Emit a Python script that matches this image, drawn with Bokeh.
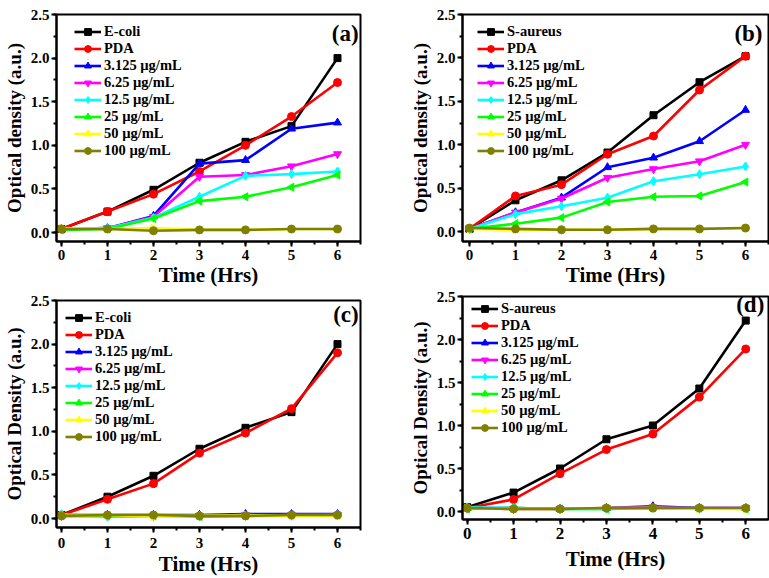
from bokeh.plotting import figure
from bokeh.layouts import column, row
from bokeh.models import Legend, LegendItem, Label, SingleIntervalTicker, PrintfTickFormatter
from bokeh.embed import file_html
from bokeh.resources import INLINE
import math

time_hrs = [0, 1, 2, 3, 4, 5, 6]

series_labels_a = ["E-coli", "PDA", "3.125 µg/mL", "6.25 µg/mL", "12.5 µg/mL", "25 µg/mL", "50 µg/mL", "100 µg/mL"]
series_labels_b = ["S-aureus", "PDA", "3.125 µg/mL", "6.25 µg/mL", "12.5 µg/mL", "25 µg/mL", "50 µg/mL", "100 µg/mL"]

# Panel (a)
a_ecoli = [0.04, 0.24, 0.49, 0.80, 1.04, 1.22, 2.00]
a_pda   = [0.04, 0.24, 0.44, 0.70, 1.00, 1.33, 1.72]
a_3125  = [0.04, 0.05, 0.19, 0.79, 0.83, 1.19, 1.26]
a_625   = [0.04, 0.05, 0.18, 0.64, 0.66, 0.76, 0.90]
a_125   = [0.04, 0.05, 0.17, 0.41, 0.65, 0.67, 0.70]
a_25    = [0.03, 0.04, 0.16, 0.36, 0.41, 0.52, 0.66]
a_50    = [0.05, 0.04, 0.05, 0.03, 0.03, 0.04, 0.04]
a_100   = [0.04, 0.04, 0.02, 0.03, 0.03, 0.04, 0.04]

# Panel (b)
b_saureus = [0.03, 0.36, 0.59, 0.91, 1.34, 1.72, 2.02]
b_pda     = [0.03, 0.41, 0.54, 0.89, 1.10, 1.63, 2.02]
b_3125    = [0.03, 0.22, 0.39, 0.74, 0.85, 1.04, 1.40]
b_625     = [0.03, 0.22, 0.38, 0.62, 0.72, 0.81, 1.00]
b_125     = [0.03, 0.20, 0.29, 0.39, 0.58, 0.66, 0.75]
b_25      = [0.03, 0.09, 0.16, 0.34, 0.40, 0.41, 0.57]
b_50      = [0.03, 0.02, 0.02, 0.02, 0.03, 0.03, 0.04]
b_100     = [0.04, 0.03, 0.02, 0.02, 0.03, 0.03, 0.04]

# Panel (c)
c_ecoli = [0.04, 0.25, 0.49, 0.80, 1.04, 1.22, 2.00]
c_pda   = [0.04, 0.22, 0.40, 0.75, 0.98, 1.26, 1.90]
c_3125  = [0.04, 0.04, 0.04, 0.04, 0.05, 0.05, 0.05]
c_625   = [0.03, 0.03, 0.03, 0.03, 0.04, 0.04, 0.04]
c_125   = [0.05, 0.02, 0.03, 0.03, 0.03, 0.03, 0.04]
c_25    = [0.03, 0.03, 0.03, 0.02, 0.03, 0.04, 0.04]
c_50    = [0.03, 0.04, 0.02, 0.03, 0.04, 0.03, 0.03]
c_100   = [0.03, 0.04, 0.04, 0.03, 0.03, 0.04, 0.04]

# Panel (d)
d_saureus = [0.05, 0.22, 0.50, 0.84, 1.00, 1.43, 2.22]
d_pda     = [0.04, 0.14, 0.44, 0.72, 0.90, 1.33, 1.89]
d_3125    = [0.04, 0.04, 0.03, 0.04, 0.06, 0.04, 0.04]
d_625     = [0.04, 0.03, 0.03, 0.04, 0.05, 0.04, 0.04]
d_125     = [0.05, 0.04, 0.03, 0.03, 0.04, 0.03, 0.04]
d_25      = [0.03, 0.04, 0.03, 0.03, 0.04, 0.04, 0.03]
d_50      = [0.04, 0.03, 0.03, 0.04, 0.04, 0.03, 0.03]
d_100     = [0.04, 0.03, 0.03, 0.04, 0.04, 0.04, 0.04]

colors = ["#000000", "#FF0000", "#0000FF", "#FF00FF", "#00FFFF", "#00FF00", "#FFFF00", "#808000"]
markers = ["square", "circle", "triangle", "inverted_triangle", "diamond", "triangle", "triangle", "circle"]
angles = [0, 0, 0, 0, 0, math.pi / 2, -math.pi / 2, 0]
msizes = [7, 8, 8, 8, 9, 8, 8, 8]

FONT = "Liberation Serif"


def make_panel(series, labels, tag, ylabel, width, height, borders, xr, yr,
               legend_xy, tag_xy, xtick_size="15px", xtick_standoff=3, xlabel_standoff=0):
    left, right, top, bottom = borders
    p = figure(width=width, height=height, x_range=xr, y_range=yr,
               output_backend="svg", toolbar_location=None,
               min_border_left=left, min_border_right=right,
               min_border_top=top, min_border_bottom=bottom)
    p.xgrid.visible = False
    p.ygrid.visible = False
    p.outline_line_color = "black"
    p.outline_line_width = 2
    p.background_fill_color = "white"
    p.border_fill_color = "white"

    p.xaxis.ticker = SingleIntervalTicker(interval=1, num_minor_ticks=2)
    p.yaxis.ticker = SingleIntervalTicker(interval=0.5, num_minor_ticks=2)
    p.yaxis.formatter = PrintfTickFormatter(format="%.1f")
    for ax in (p.xaxis[0], p.yaxis[0]):
        ax.axis_line_width = 2
        ax.major_tick_line_width = 2
        ax.minor_tick_line_width = 2
        ax.major_tick_out = 5
        ax.major_tick_in = 0
        ax.minor_tick_out = 3
        ax.minor_tick_in = 0
        ax.major_label_text_font = FONT
        ax.major_label_text_font_style = "bold"
        ax.major_label_text_color = "black"
        ax.axis_label_text_font = FONT
        ax.axis_label_text_font_style = "bold"
        ax.axis_label_text_color = "black"
    p.xaxis.major_label_standoff = xtick_standoff
    p.yaxis.major_label_standoff = 2
    p.xaxis.major_label_text_font_size = xtick_size
    p.yaxis.major_label_text_font_size = "15px"
    p.xaxis.axis_label = "Time (Hrs)"
    p.xaxis.axis_label_text_font_size = "21px"
    p.xaxis.axis_label_standoff = xlabel_standoff
    p.yaxis.axis_label = ylabel
    p.yaxis.axis_label_text_font_size = "19px"
    p.yaxis.axis_label_standoff = 3

    items = []
    for i, (ys, lab) in enumerate(zip(series, labels)):
        ln = p.line(time_hrs, ys, line_color=colors[i], line_width=2.6)
        sc = p.scatter(time_hrs, ys, marker=markers[i], size=msizes[i], angle=angles[i],
                       fill_color=colors[i], line_color=colors[i])
        items.append(LegendItem(label=lab, renderers=[ln, sc]))

    legend = Legend(items=items, location=legend_xy, padding=0, spacing=0,
                    label_height=17, glyph_height=17, glyph_width=27,
                    label_standoff=3, margin=0,
                    label_text_font=FONT, label_text_font_style="bold",
                    label_text_font_size="14.5px", label_text_color="black",
                    border_line_color=None, background_fill_alpha=0)
    p.add_layout(legend, "center")

    p.add_layout(Label(x=tag_xy[0], y=tag_xy[1], text=tag, text_align="right",
                       text_baseline="middle", text_font=FONT, text_font_style="bold",
                       text_font_size="23px", text_color="black"))
    return p


pa = make_panel([a_ecoli, a_pda, a_3125, a_625, a_125, a_25, a_50, a_100], series_labels_a,
                "(a)", "Optical density (a.u.)", 384, 289, (54, 24, 14, 48),
                (-0.108, 6.5), (-0.103, 2.5), (18, 82), (6.46, 2.28))
pb = make_panel([b_saureus, b_pda, b_3125, b_625, b_125, b_25, b_50, b_100], series_labels_b,
                "(b)", "Optical density (a.u.)", 385, 289, (78, 1, 14, 47),
                (-0.152, 6.5), (-0.115, 2.5), (15, 82), (6.37, 2.28))
pc = make_panel([c_ecoli, c_pda, c_3125, c_625, c_125, c_25, c_50, c_100], series_labels_a,
                "(c)", "Optical Density (a.u.)", 384, 289, (54, 24, 11, 50),
                (-0.108, 6.5), (-0.103, 2.5), (9, 82), (6.46, 2.34),
                xtick_standoff=5, xlabel_standoff=1)
pd_ = make_panel([d_saureus, d_pda, d_3125, d_625, d_125, d_25, d_50, d_100], series_labels_b,
                 "(d)", "Optical Density (a.u.)", 385, 289, (78, 1, 7, 59),
                 (-0.1, 6.49), (-0.093, 2.5), (9, 83), (6.4, 2.41), xtick_size="17px",
                 xtick_standoff=3, xlabel_standoff=5)

layout = row(column(pa, pc), column(pb, pd_))
open("out.html", "w").write(file_html(layout, INLINE))
